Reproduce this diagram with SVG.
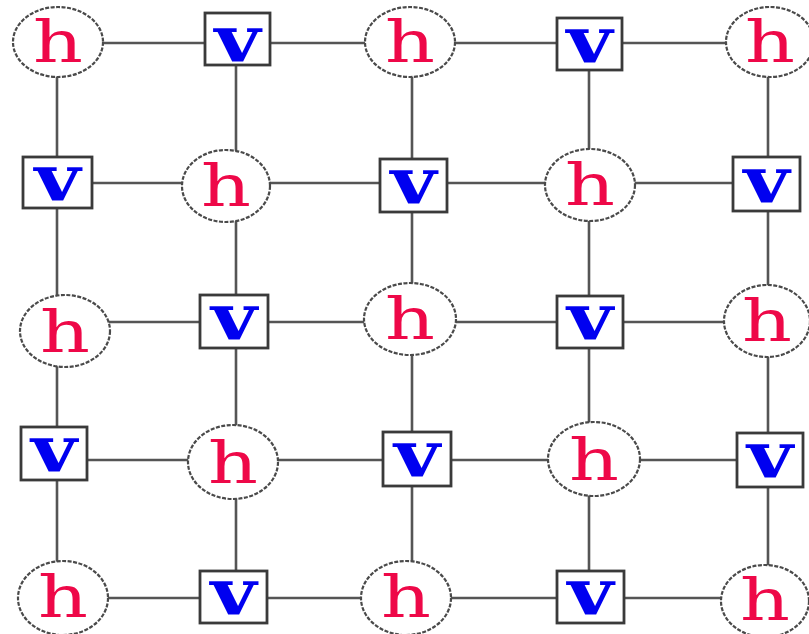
<svg xmlns="http://www.w3.org/2000/svg" width="809" height="634" viewBox="0 0 809 634">
  <style>
    .edge { stroke: #555; stroke-width: 2.6; fill: none; }
    .hnode ellipse { fill: #fff; stroke: #4a4a4a; stroke-width: 2.2; stroke-dasharray: 4 1.5; }
    .vnode rect { fill: #fff; stroke: #3a3a3a; stroke-width: 2.8; }
    .hl { font-family: "DejaVu Serif", "Liberation Serif", serif; font-size: 58px; fill: #ee0848; text-anchor: middle; }
    .vl { font-family: "DejaVu Serif", "Liberation Serif", serif; font-weight: bold; font-size: 64px; fill: #0000f0; text-anchor: middle; }
  </style>
  <rect width="809" height="634" fill="#fff"/>

  <!-- lattice connectors -->
  <g id="connectors">
    <line class="edge" x1="57" y1="43" x2="768" y2="43"/>
    <line class="edge" x1="57" y1="183" x2="768" y2="183"/>
    <line class="edge" x1="57" y1="322" x2="768" y2="322"/>
    <line class="edge" x1="57" y1="460" x2="768" y2="460"/>
    <line class="edge" x1="57" y1="598" x2="768" y2="598"/>
    <line class="edge" x1="57" y1="43" x2="57" y2="598"/>
    <line class="edge" x1="236" y1="43" x2="236" y2="598"/>
    <line class="edge" x1="412" y1="43" x2="412" y2="598"/>
    <line class="edge" x1="589" y1="43" x2="589" y2="598"/>
    <line class="edge" x1="768" y1="43" x2="768" y2="598"/>
  </g>

  <!-- row 1 -->
  <g id="n11" class="hnode"><ellipse cx="58" cy="42" rx="45" ry="35"/><text class="hl" x="58" y="62" textLength="50" lengthAdjust="spacingAndGlyphs">h</text></g>
  <g id="n12" class="vnode"><rect x="205" y="13" width="65" height="52"/><text class="vl" x="237.5" y="61" textLength="46" lengthAdjust="spacingAndGlyphs">v</text></g>
  <g id="n13" class="hnode"><ellipse cx="410" cy="42" rx="45" ry="35"/><text class="hl" x="410" y="62" textLength="50" lengthAdjust="spacingAndGlyphs">h</text></g>
  <g id="n14" class="vnode"><rect x="557" y="18" width="65" height="52"/><text class="vl" x="589.5" y="62" textLength="46" lengthAdjust="spacingAndGlyphs">v</text></g>
  <g id="n15" class="hnode"><ellipse cx="770" cy="42" rx="44" ry="35"/><text class="hl" x="770" y="62" textLength="50" lengthAdjust="spacingAndGlyphs">h</text></g>

  <!-- row 2 -->
  <g id="n21" class="vnode"><rect x="23" y="157" width="69" height="51"/><text class="vl" x="57.5" y="200" textLength="46" lengthAdjust="spacingAndGlyphs">v</text></g>
  <g id="n22" class="hnode"><ellipse cx="226" cy="186" rx="44" ry="36"/><text class="hl" x="226" y="206" textLength="50" lengthAdjust="spacingAndGlyphs">h</text></g>
  <g id="n23" class="vnode"><rect x="380" y="159" width="67" height="53"/><text class="vl" x="413.5" y="203" textLength="46" lengthAdjust="spacingAndGlyphs">v</text></g>
  <g id="n24" class="hnode"><ellipse cx="590" cy="185" rx="45" ry="36"/><text class="hl" x="590" y="205" textLength="50" lengthAdjust="spacingAndGlyphs">h</text></g>
  <g id="n25" class="vnode"><rect x="733" y="157" width="67" height="54"/><text class="vl" x="766.5" y="202" textLength="46" lengthAdjust="spacingAndGlyphs">v</text></g>

  <!-- row 3 -->
  <g id="n31" class="hnode"><ellipse cx="65" cy="331" rx="45" ry="36"/><text class="hl" x="65" y="352" textLength="50" lengthAdjust="spacingAndGlyphs">h</text></g>
  <g id="n32" class="vnode"><rect x="200" y="295" width="68" height="53"/><text class="vl" x="234" y="339" textLength="46" lengthAdjust="spacingAndGlyphs">v</text></g>
  <g id="n33" class="hnode"><ellipse cx="410" cy="319" rx="46" ry="36"/><text class="hl" x="410" y="339" textLength="50" lengthAdjust="spacingAndGlyphs">h</text></g>
  <g id="n34" class="vnode"><rect x="557" y="296" width="66" height="52"/><text class="vl" x="590" y="339" textLength="46" lengthAdjust="spacingAndGlyphs">v</text></g>
  <g id="n35" class="hnode"><ellipse cx="767" cy="321" rx="43" ry="36"/><text class="hl" x="767" y="341" textLength="50" lengthAdjust="spacingAndGlyphs">h</text></g>

  <!-- row 4 -->
  <g id="n41" class="vnode"><rect x="21" y="427" width="66" height="53"/><text class="vl" x="54" y="471" textLength="46" lengthAdjust="spacingAndGlyphs">v</text></g>
  <g id="n42" class="hnode"><ellipse cx="233" cy="462" rx="45" ry="37"/><text class="hl" x="233" y="483" textLength="50" lengthAdjust="spacingAndGlyphs">h</text></g>
  <g id="n43" class="vnode"><rect x="383" y="432" width="68" height="54"/><text class="vl" x="417" y="476" textLength="46" lengthAdjust="spacingAndGlyphs">v</text></g>
  <g id="n44" class="hnode"><ellipse cx="594" cy="459" rx="46" ry="37"/><text class="hl" x="594" y="480" textLength="50" lengthAdjust="spacingAndGlyphs">h</text></g>
  <g id="n45" class="vnode"><rect x="737" y="433" width="66" height="54"/><text class="vl" x="770" y="477" textLength="46" lengthAdjust="spacingAndGlyphs">v</text></g>

  <!-- row 5 -->
  <g id="n51" class="hnode"><ellipse cx="63" cy="598" rx="45" ry="37"/><text class="hl" x="63" y="617" textLength="50" lengthAdjust="spacingAndGlyphs">h</text></g>
  <g id="n52" class="vnode"><rect x="200" y="571" width="67" height="52"/><text class="vl" x="233.5" y="614" textLength="46" lengthAdjust="spacingAndGlyphs">v</text></g>
  <g id="n53" class="hnode"><ellipse cx="406" cy="598" rx="45" ry="37"/><text class="hl" x="406" y="617" textLength="50" lengthAdjust="spacingAndGlyphs">h</text></g>
  <g id="n54" class="vnode"><rect x="557" y="571" width="67" height="52"/><text class="vl" x="590.5" y="614" textLength="46" lengthAdjust="spacingAndGlyphs">v</text></g>
  <g id="n55" class="hnode"><ellipse cx="765" cy="601" rx="44" ry="36"/><text class="hl" x="765" y="620" textLength="50" lengthAdjust="spacingAndGlyphs">h</text></g>
</svg>
